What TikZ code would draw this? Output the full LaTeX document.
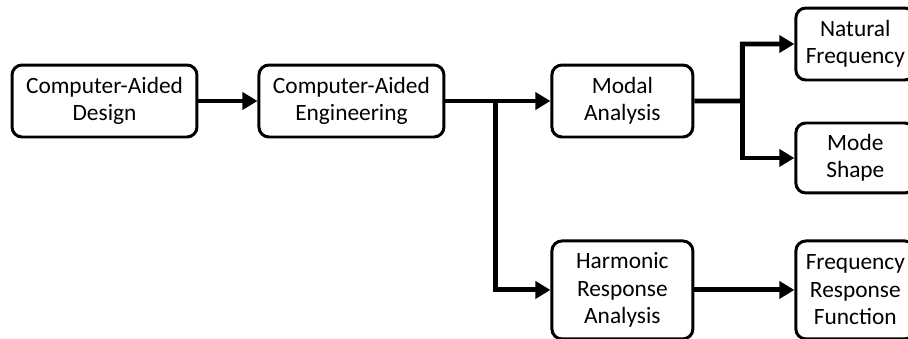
\documentclass[tikz,border=0pt]{standalone}
\usepackage{fontspec}
\setmainfont{Carlito}
\usetikzlibrary{positioning, arrows.meta, calc}

\begin{document}
\begin{tikzpicture}[
  x=0.02cm, y=-0.02cm,
  node distance=2.0cm,
  box/.style={draw, line width=1.7pt, rounded corners=0.2cm, minimum height=1.44cm,
              minimum width=3.7cm, align=center, inner sep=1pt,
              font=\fontsize{13.3}{15.6}\selectfont},
  ar/.style={-{Triangle[length=0.3cm,width=0.34cm]}, line width=2.8pt},
]
  \useasboundingbox (0,0) rectangle (908,338);
  \node[box] (cad) at (104.5,101) {Computer-Aided\\Design};
  \node[box, right=1.18cm of cad] (cae) {Computer-Aided\\Engineering};
  \node[box, minimum width=2.82cm, right=2.1cm of cae] (modal) {Modal\\Analysis};
  \node[box, minimum width=2.38cm, right=of modal, yshift=1.14cm] (natfreq) {Natural\\Frequency};
  \node[box, minimum width=2.38cm, minimum height=1.4cm, right=of modal, yshift=-1.14cm] (modeshape) {Mode\\Shape};
  \node[box, minimum width=2.82cm, minimum height=1.96cm, below=2.02cm of modal] (harmonic) {Harmonic\\Response\\Analysis};
  \node[box, minimum width=2.38cm, minimum height=1.96cm, right=of harmonic] (frf) {Frequency\\Response\\Function};

  \coordinate (split) at ($(cae.east)!0.48!(modal.west)$);
  \coordinate (fork) at ($(modal.east)!0.48!(modal.east -| natfreq.west)$);

  \draw[ar] (cad) -- (cae);
  \draw[ar] (cae) -- (modal);
  \draw[ar] (split) |- (harmonic);
  \draw[ar] (modal) -- (fork) |- (natfreq);
  \draw[ar] (fork) |- (modeshape);
  \draw[ar] (harmonic) -- (frf);
\end{tikzpicture}
\end{document}
